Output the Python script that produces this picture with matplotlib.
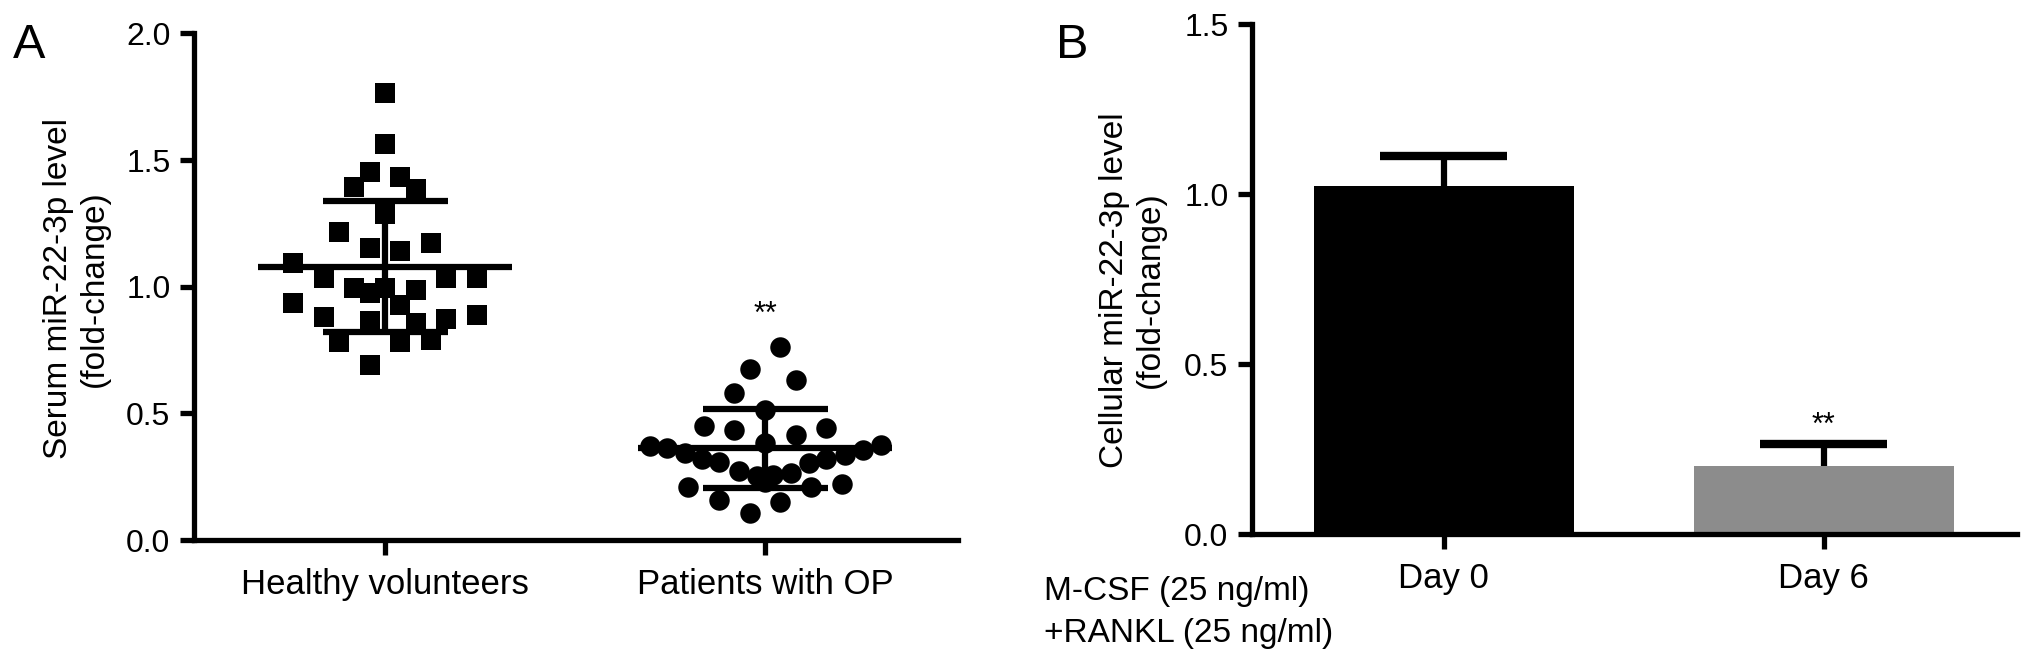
import matplotlib
matplotlib.use("Agg")
import matplotlib.pyplot as plt
import numpy as np

plt.rcParams['font.family'] = ['Liberation Sans', 'DejaVu Sans']

# ---------------- Data ----------------
groups_A = ["Healthy volunteers", "Patients with OP"]

healthy_vals = [1.763, 1.563, 1.454, 1.434, 1.395, 1.385, 1.287, 1.214, 1.151, 1.142,
                1.171, 1.095, 1.033, 0.994, 0.974, 0.994, 0.987, 1.033, 1.033, 0.934,
                0.928, 0.882, 0.866, 0.856, 0.871, 0.888, 0.783, 0.783, 0.790, 0.691]
healthy_cols = [0, 0, -1, 1, -2, 2, 0, -3, -1, 1,
                3, -6, -4, -2, -1, 0, 2, 4, 6, -6,
                1, -4, -1, 2, 4, 6, -3, 1, 3, -1]

op_vals = [0.761, 0.674, 0.632, 0.582, 0.513, 0.450, 0.434, 0.441, 0.415, 0.384,
           0.371, 0.362, 0.342, 0.319, 0.309, 0.274, 0.253, 0.257, 0.263, 0.303,
           0.319, 0.336, 0.355, 0.375, 0.210, 0.158, 0.151, 0.210, 0.221, 0.108, 0.230]
op_cols = [1, -1, 2, -2, 0, -4, -2, 4, 2, 0,
           -7.5, -6.4, -5.2, -4.1, -3, -1.7, -0.5, 0.5, 1.7, 2.9,
           4, 5.2, 6.4, 7.6, -5, -3, 1, 3, 5, -1, 0]

means_A = [1.079, 0.362]
sds_A = [0.258, 0.155]
sig_A = ["", "**"]

groups_B = ["Day 0", "Day 6"]
bar_vals_B = [1.023, 0.200]
bar_err_B = [0.088, 0.064]
bar_colors_B = ["#000000", "#8c8c8c"]
sig_B = ["", "**"]

yticks_A = [0.0, 0.5, 1.0, 1.5, 2.0]
yticks_B = [0.0, 0.5, 1.0, 1.5]

# ---------------- Figure ----------------
W, H = 2031, 666
fig = plt.figure(figsize=(W / 100, H / 100), dpi=100)

def px_axes(x0, x1, ybot, ytop):
    return [x0 / W, 1 - ybot / H, (x1 - x0) / W, (ybot - ytop) / H]

axA = fig.add_axes(px_axes(194, 958, 540, 33.4))
axB = fig.add_axes(px_axes(1252, 2017, 534, 24))

spine_lw = 3.8
tick_fs = 23
xtick_fs = 25

def style(ax):
    for s in ["top", "right"]:
        ax.spines[s].set_visible(False)
    for s in ["left", "bottom"]:
        ax.spines[s].set_linewidth(spine_lw)
        ax.spines[s].set_capstyle("projecting")
    ax.tick_params(axis="y", length=10, width=spine_lw, labelsize=tick_fs, pad=7, direction="out")
    ax.tick_params(axis="x", length=11, width=spine_lw, labelsize=xtick_fs, pad=9, direction="out")

step = 0.0403
msize = 207
cap_half = 0.166

# Panel A
style(axA)
xh = 0 + np.array(healthy_cols) * step
xo = 1 + np.array(op_cols) * step
axA.scatter(xh, healthy_vals, marker="s", s=msize, color="black", linewidths=0, zorder=2, clip_on=False)
axA.scatter(xo, op_vals, marker="o", s=msize * 1.05, color="black", linewidths=0, zorder=2, clip_on=False)
for i, (m, sd) in enumerate(zip(means_A, sds_A)):
    axA.hlines(m, i - 0.334, i + 0.334, color="black", lw=4.5, zorder=3)
axA.errorbar([0, 1], means_A, yerr=sds_A, fmt="none", ecolor="black", elinewidth=4.5,
             capsize=45, capthick=4.5, zorder=3)
for i, s in enumerate(sig_A):
    if s:
        axA.text(i, means_A[i] + sds_A[i] + 0.37, s, ha="center", va="center", fontsize=22)
axA.set_xlim(-0.503, 1.508)
axA.set_ylim(0, 2.0)
axA.set_yticks(yticks_A)
axA.set_yticklabels([f"{v:.1f}" for v in yticks_A])
axA.set_xticks([0, 1])
axA.set_xticklabels(groups_A)

# Panel B
style(axB)
xb = np.arange(len(groups_B))
axB.bar(xb, bar_vals_B, width=0.684, color=bar_colors_B, zorder=2)
tops = np.array(bar_vals_B) + np.array(bar_err_B)
axB.vlines(xb, bar_vals_B, tops, color="black", lw=4.5, zorder=3)
axB.hlines(tops, xb - cap_half, xb + cap_half, color="black", lw=6, zorder=3)
for i, s in enumerate(sig_B):
    if s:
        axB.text(i, tops[i] + 0.054, s, ha="center", va="center", fontsize=22)
axB.set_xlim(-0.504, 1.509)
axB.set_ylim(0, 1.5)
axB.set_yticks(yticks_B)
axB.set_yticklabels([f"{v:.1f}" for v in yticks_B])
axB.set_xticks(xb)
axB.set_xticklabels(groups_B)

# Labels
fig.text(76 / W, 1 - 289 / H, "Serum miR-22-3p level\n(fold-change)", rotation=90,
         ha="center", va="center", multialignment="center", fontsize=24, linespacing=1.2)
fig.text(1132 / W, 1 - 290 / H, "Cellular miR-22-3p level\n(fold-change)", rotation=90,
         ha="center", va="center", multialignment="center", fontsize=24, linespacing=1.2)

fig.text(13 / W, 1 - 58 / H, "A", fontsize=35, ha="left", va="baseline")
fig.text(1056 / W, 1 - 58 / H, "B", fontsize=35, ha="left", va="baseline")

fig.text(1044 / W, 1 - 600 / H, "M-CSF (25 ng/ml)", fontsize=24, ha="left", va="baseline")
fig.text(1044 / W, 1 - 642 / H, "+RANKL (25 ng/ml)", fontsize=24, ha="left", va="baseline")

fig.savefig("out.png", dpi=100)
